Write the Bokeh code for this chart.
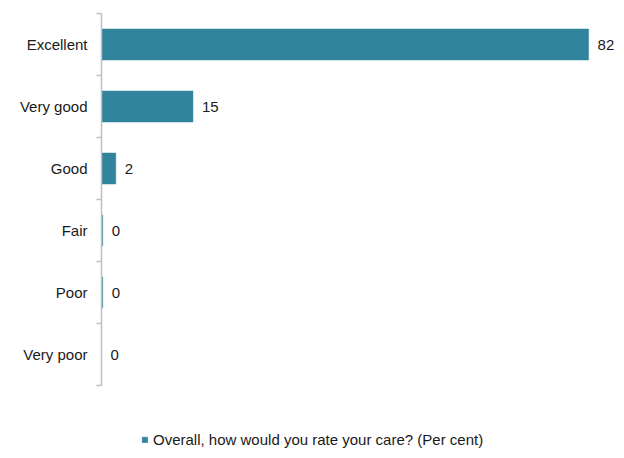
from bokeh.plotting import figure
from bokeh.models import (Range1d, LinearAxis, FixedTicker,
                          ColumnDataSource, Legend, LegendItem)
from bokeh.core.properties import value
from bokeh.embed import file_html
from bokeh.resources import INLINE

categories = ["Excellent", "Very good", "Good", "Fair", "Poor", "Very poor"]
percent = [82, 15.4, 2.4, 0.2, 0.2, 0]
value_labels = ["82", "15", "2", "0", "0", "0"]
series_name = "Overall, how would you rate your care? (Per cent)"

BAR = "#31849B"
AXIS = "#BFBFBF"
FONT = "Liberation Sans"
TXT = "#1a1a1a"

n = len(categories)
ypos = [n - i - 0.5 for i in range(n)]   # category slots, top to bottom
src = ColumnDataSource(dict(y=ypos, v=percent, lab=value_labels))

p = figure(width=618, height=450, output_backend="svg", toolbar_location=None,
           y_range=Range1d(-1.048, n), x_range=Range1d(0, 86.7),
           x_axis_location=None, y_axis_location=None,
           min_border_left=101, min_border_right=2, min_border_top=13, min_border_bottom=0)
p.outline_line_color = None
p.xgrid.grid_line_color = None
p.ygrid.grid_line_color = None
p.background_fill_color = "white"
p.border_fill_color = "white"

bars = p.hbar(y="y", right="v", left=0, height=0.5, source=src,
              fill_color=BAR, line_color=BAR, line_width=0.5)

p.text(x="v", y="y", text="lab", source=src, x_offset=9,
       text_baseline="middle", text_align="left",
       text_font=value(FONT), text_font_size="15px", text_color=TXT)

# axis line with ticks between categories
tick_axis = LinearAxis(ticker=FixedTicker(ticks=list(range(n + 1))), bounds=(0, n),
                       major_label_overrides={i: "" for i in range(n + 1)},
                       axis_line_color=AXIS, axis_line_width=1.5,
                       major_tick_line_color=AXIS, major_tick_line_width=1.5,
                       major_tick_out=5, major_tick_in=0,
                       minor_tick_line_color=None,
                       major_label_standoff=0)
p.add_layout(tick_axis, "left")

label_axis = LinearAxis(ticker=FixedTicker(ticks=ypos),
                        major_label_overrides={y: c for y, c in zip(ypos, categories)},
                        axis_line_color=None, major_tick_line_color=None,
                        minor_tick_line_color=None,
                        major_tick_out=0, major_tick_in=0,
                        major_label_text_font=FONT, major_label_text_font_size="15px",
                        major_label_text_color=TXT, major_label_standoff=9)
p.add_layout(label_axis, "left")

legend = Legend(items=[LegendItem(label=series_name, renderers=[bars])],
                location=(40, 2), padding=0, margin=0, spacing=0,
                border_line_color=None, background_fill_alpha=0,
                glyph_width=7, glyph_height=7, label_standoff=5,
                label_text_font=FONT, label_text_font_size="15px", label_text_color=TXT)
p.add_layout(legend, "center")

open("out.html", "w").write(file_html(p, INLINE))
